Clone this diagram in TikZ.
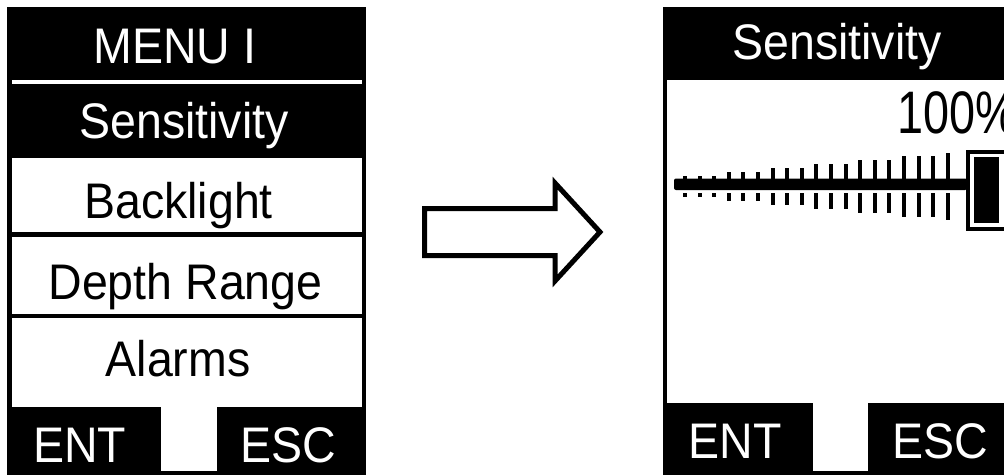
\documentclass[tikz,border=0pt]{standalone}
\usepackage{fontspec}
\newfontfamily\lcd[FakeStretch=0.93]{Liberation Sans}
\newfontfamily\lcdnarrow[FakeStretch=0.78]{Liberation Sans}
\tikzset{
  lcdtext/.style={font=\lcd\fontsize{50}{60}\selectfont, inner sep=0pt, anchor=base},
  wtxt/.style={lcdtext, text=white},
  btxt/.style={lcdtext, text=black},
  blockarrow/.style={draw=black, fill=white, line width=5pt, miter limit=10},
  ink/.style={fill=black},
  paper/.style={fill=white}
}
\begin{document}
\begin{tikzpicture}[x=1pt,y=-1pt]
\useasboundingbox[fill=white] (0,0) rectangle (1004,475);

% ---------- left panel: menu ----------
\fill[ink] (7,7) rectangle (366,475);
\fill[paper] (12,80) rectangle (362,84);
\fill[paper] (12,158) rectangle (362,232);
\fill[paper] (12,237) rectangle (362,313.5);
\fill[paper] (12,318) rectangle (362,407);
\fill[paper] (161,407) rectangle (217,471);

\node[wtxt] (menu) at (175,63) {MENU I};
\node[wtxt] (sensL) at (184,138) {Sensitivity};
\node[btxt] (back) at (178.5,218) {Backlight};
\node[btxt] (depth) at (185.5,299) {Depth Range};
\node[btxt] (alarms) at (178,376) {Alarms};
\node[wtxt] (entL) at (79.5,462) {ENT};
\node[wtxt] (escL) at (288.5,462) {ESC};

% ---------- block arrow ----------
\draw[blockarrow] (424.5,208.5) -- (555,208.5) -- (555,183) -- (600,232)
  -- (555,281) -- (555,255.5) -- (424.5,255.5) -- cycle;

% ---------- right panel: sensitivity ----------
\fill[ink] (663,7) rectangle (1004,80);
\fill[ink] (663,80) rectangle (667,475);
\fill[ink] (663,403) rectangle (813,475);
\fill[ink] (868,403) rectangle (1004,475);
\fill[ink] (813,471) rectangle (868,475);

\node[wtxt] (sensR) at (837,59) {Sensitivity};
\node[font=\lcdnarrow\fontsize{60}{70}\selectfont, inner sep=0pt, anchor=base west, text=black] (pct) at (897,133) {100\%};
\node[wtxt] (entR) at (735,458) {ENT};
\node[wtxt] (escR) at (940,458) {ESC};

% slider bar
\fill[ink, rounded corners=2pt] (674,178.5) rectangle (967,190);
\foreach \i/\ha/\bb in {0/3/197,1/3/197,2/3/197,3/7/201,4/7/201,5/7/201,
  6/11/205,7/11/205,8/11/205,9/15/209,10/15/209,11/15/209,
  12/19/213,13/19/213,14/19/213,15/23/217,16/23/217,17/23/217,18/26/220}{
  \fill[ink] ({685+\i*14.6-2},{178.5-\ha}) rectangle ({685+\i*14.6+2},178.5);
  \fill[ink] ({685+\i*14.6-2},193) rectangle ({685+\i*14.6+2},\bb);
}
% slider handle
\fill[ink] (966,150) rectangle (1004,231);
\fill[paper] (970,154) rectangle (1004,227);
\fill[ink] (974,157) rectangle (999,223);
\end{tikzpicture}
\end{document}
